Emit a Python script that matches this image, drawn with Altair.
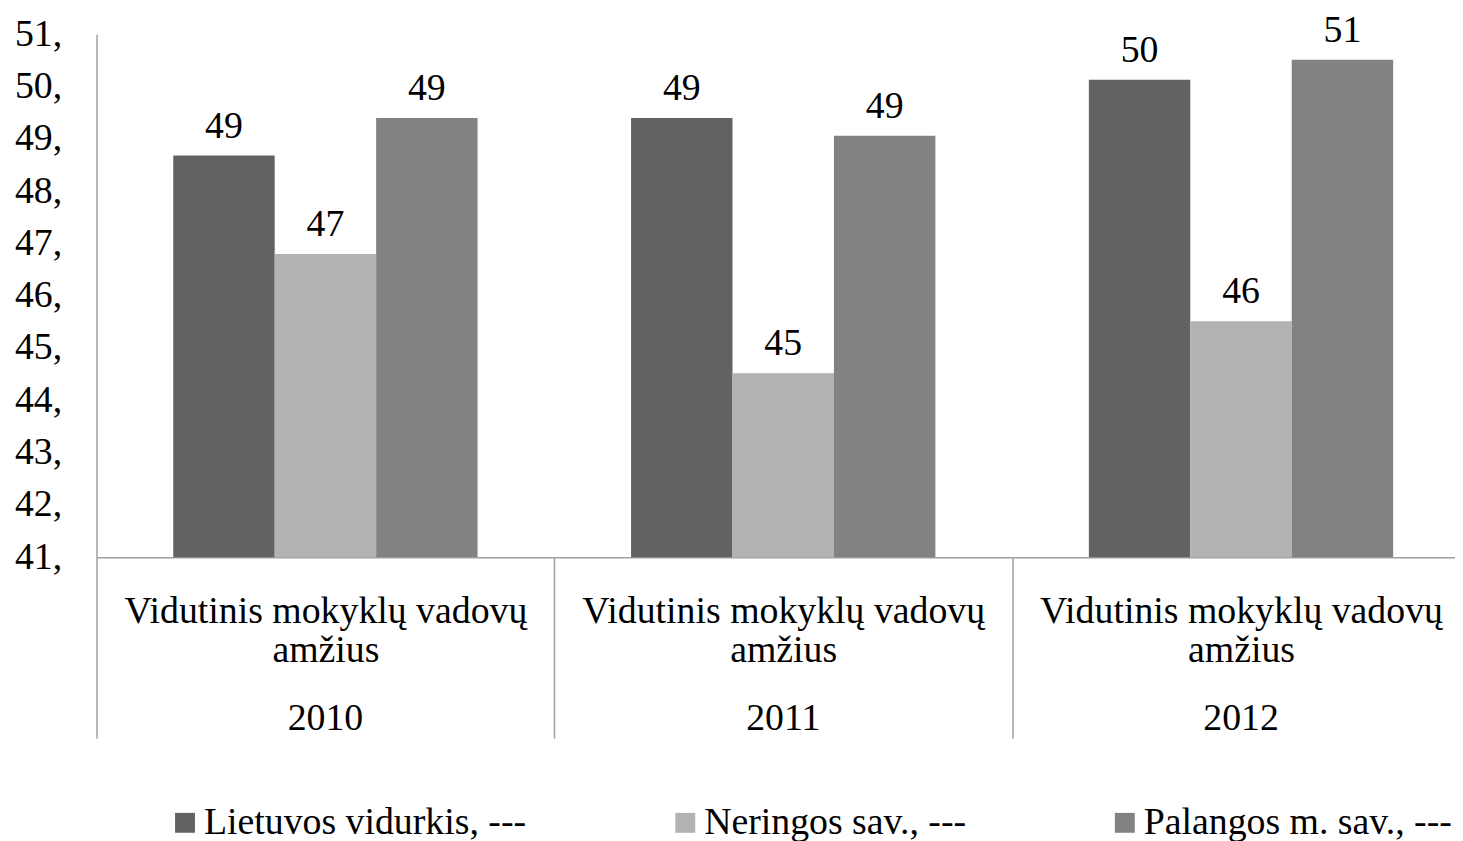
import altair as alt
import pandas as pd

years = ["2010", "2011", "2012"]
series = ["Lietuvos vidurkis, ---", "Neringos sav., ---", "Palangos m. sav., ---"]
lietuvos = [48.68, 49.40, 50.13]
neringos = [46.80, 44.52, 45.51]
palangos = [49.40, 49.06, 50.51]
colors = ["#626262", "#b2b2b2", "#828282"]
y_ticks = [41, 42, 43, 44, 45, 46, 47, 48, 49, 50, 51]
cat_line1 = "Vidutinis mokyklų vadovų"
cat_line2 = "amžius"

rows = []
for name, vals in zip(series, [lietuvos, neringos, palangos]):
    for yr, v in zip(years, vals):
        rows.append({"year": yr, "series": name, "value": v})
df = pd.DataFrame(rows)

FONT = "Liberation Serif"
FS = 38
GRAY = "#a0a0a0"

x_enc = alt.X(
    "year:N",
    sort=years,
    scale=alt.Scale(range=[0, 1381], paddingInner=0, paddingOuter=0),
    axis=alt.Axis(
        title=None,
        orient="bottom",
        tickBand="extent",
        tickSize=182,
        tickColor=GRAY,
        tickWidth=1.5,
        domainColor=GRAY,
        domainWidth=1.5,
        labelExpr=f"datum.label ? ['{cat_line1}', '{cat_line2}'] : ''",
        labelLineHeight=39,
        labelFont=FONT,
        labelFontSize=FS,
        labelColor="black",
        labelBaseline="alphabetic",
        labelPadding=-116,
        labelLimit=0,
        labelOverlap=False,
        labelAngle=0,
    ),
)
xo_scale = alt.Scale(domain=series, paddingInner=0, paddingOuter=0.7566)
y_enc = alt.Y(
    "value:Q",
    stack=None,
    scale=alt.Scale(domain=[41, 51], nice=False, zero=False),
    axis=alt.Axis(
        title=None,
        values=y_ticks,
        labelExpr="datum.label + ','",
        ticks=False,
        grid=False,
        domainColor=GRAY,
        domainWidth=1.5,
        labelPadding=35,
        labelFont=FONT,
        labelFontSize=FS,
        labelColor="black",
    ),
)

bars = alt.Chart(df).mark_bar().encode(
    x=x_enc,
    xOffset=alt.XOffset("series:N", sort=series, scale=xo_scale),
    y=y_enc,
    y2=alt.datum(41),
    color=alt.Color(
        "series:N",
        sort=series,
        scale=alt.Scale(domain=series, range=colors),
        legend=alt.Legend(
            title=None,
            orient="none",
            legendX=70,
            legendY=774,
            direction="horizontal",
            columnPadding=140,
            labelFont=FONT,
            labelFontSize=FS,
            labelColor="black",
            labelOffset=0,
            labelLimit=0,
            symbolType="square",
            symbolSize=400,
            symbolStrokeWidth=0,
            padding=0,
        ),
    ),
)

labels = alt.Chart(df).mark_text(
    baseline="alphabetic", dy=-18, font=FONT, fontSize=FS, color="black"
).encode(
    x=alt.X(
        "year:N",
        sort=years,
        axis=alt.Axis(
            title=None,
            orient="bottom",
            domain=False,
            ticks=False,
            labelFont=FONT,
            labelFontSize=FS,
            labelColor="black",
            labelBaseline="alphabetic",
            labelPadding=173,
            labelLimit=0,
            labelOverlap=False,
            labelAngle=0,
        ),
    ),
    xOffset=alt.XOffset("series:N", sort=series),
    y=alt.Y("value:Q"),
    text=alt.Text("value:Q", format=".0f"),
)

chart = (
    alt.layer(bars, labels)
    .resolve_axis(x="independent")
    .properties(
        width=1366,
        height=526,
        autosize=alt.AutoSizeParams(type="none"),
        padding={"left": 89, "top": 24, "right": 0, "bottom": 292},
        background="white",
    )
    .configure_view(stroke=None)
)

chart.save("out.html", embed_options={"renderer": "svg", "actions": False})
